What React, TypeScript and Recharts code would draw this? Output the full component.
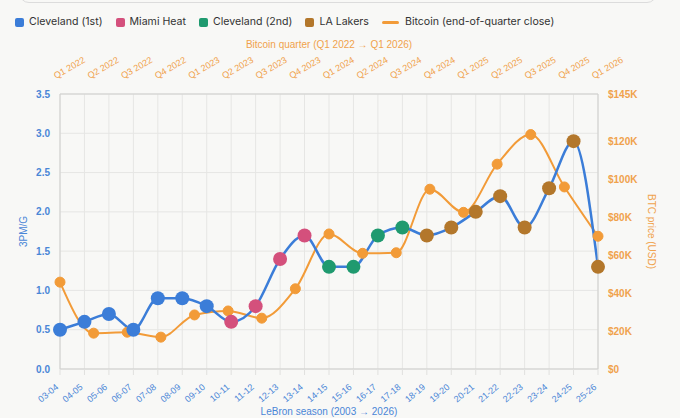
import React from 'react';
import { ComposedChart, Line, XAxis, YAxis, CartesianGrid } from 'recharts';

// LeBron seasons (bottom axis)
const seasons = [
  '03-04', '04-05', '05-06', '06-07', '07-08', '08-09', '09-10', '10-11',
  '11-12', '12-13', '13-14', '14-15', '15-16', '16-17', '17-18', '18-19',
  '19-20', '20-21', '21-22', '22-23', '23-24', '24-25', '25-26',
];
const threesPerGame = [
  0.5, 0.6, 0.7, 0.5, 0.9, 0.9, 0.8, 0.6, 0.8, 1.4, 1.7, 1.3, 1.3, 1.7, 1.8,
  1.7, 1.8, 2.0, 2.2, 1.8, 2.3, 2.9, 1.3,
];
const seasonTeam = [
  0, 0, 0, 0, 0, 0, 0, 1, 1, 1, 1, 2, 2, 2, 2, 3, 3, 3, 3, 3, 3, 3, 3,
];

const teamNames = ['Cleveland (1st)', 'Miami Heat', 'Cleveland (2nd)', 'LA Lakers'];
const teamColors = ['#3b7dd8', '#d4507c', '#1f9a6f', '#b3772b'];

// Bitcoin quarters (top axis)
const quarters = [
  'Q1 2022', 'Q2 2022', 'Q3 2022', 'Q4 2022', 'Q1 2023', 'Q2 2023', 'Q3 2023',
  'Q4 2023', 'Q1 2024', 'Q2 2024', 'Q3 2024', 'Q4 2024', 'Q1 2025', 'Q2 2025',
  'Q3 2025', 'Q4 2025', 'Q1 2026',
];
const btcClose = [
  45800, 18900, 19400, 16800, 28500, 30600, 26800, 42300, 71200, 61000, 61300,
  94800, 82600, 108000, 123600, 96000, 70000,
];

const leftTicks = [0, 0.5, 1, 1.5, 2, 2.5, 3, 3.5];
const rightTicks = [0, 20000, 40000, 60000, 80000, 100000, 120000, 145000];

const BLUE = '#3b7dd8';
const BLUE_TEXT = '#4a86d6';
const ORANGE = '#f29b38';
const ORANGE_TEXT = '#f0a24c';
const FONT = '"Liberation Sans", Arial, sans-serif';

const seasonData = seasons.map((s, i) => ({
  x: i,
  season: s,
  pm: threesPerGame[i],
  team: seasonTeam[i],
}));
const btcData = quarters.map((q, i) => ({ x: i, quarter: q, price: btcClose[i] }));

const SeasonDot = (props: any) => {
  const { cx, cy, index, payload } = props;
  return <circle key={'sd' + index} cx={cx} cy={cy} r={7} fill={teamColors[payload.team]} />;
};

const BottomTick = ({ x, y, payload }: any) => (
  <text
    transform={`translate(${x - 1},${y + 13}) rotate(-40)`}
    textAnchor='end'
    fontSize={9}
    fontFamily={FONT}
    fill={BLUE_TEXT}
  >
    {seasons[payload.value]}
  </text>
);

const TopTick = ({ x, y, payload }: any) => (
  <text
    transform={`translate(${x - 4},${y}) rotate(-30)`}
    textAnchor='start'
    fontSize={9}
    fontFamily={FONT}
    fill={ORANGE_TEXT}
  >
    {quarters[payload.value]}
  </text>
);

function Legend() {
  const items = teamNames.map((name, i) => (
    <div key={name} style={{ display: 'flex', alignItems: 'center', marginRight: 13 }}>
      <span style={{ width: 9, height: 9, borderRadius: 2, background: teamColors[i], marginRight: 5 }} />
      <span>{name}</span>
    </div>
  ));
  return (
    <div
      style={{
        position: 'absolute',
        top: 15,
        left: 15,
        display: 'flex',
        alignItems: 'center',
        fontFamily: 'Inter, sans-serif',
        fontSize: 10.6,
        lineHeight: '14px',
        color: '#333',
      }}
    >
      {items}
      <div style={{ display: 'flex', alignItems: 'center' }}>
        <span style={{ width: 17, height: 3, borderRadius: 2, background: ORANGE, marginRight: 6 }} />
        <span>Bitcoin (end-of-quarter close)</span>
      </div>
    </div>
  );
}

export default function App() {
  return (
    <div
      style={{
        position: 'fixed',
        left: 0,
        top: 0,
        width: 680,
        height: 418,
        background: '#f8f8f6',
        overflow: 'hidden',
      }}
    >
      <div
        style={{
          position: 'absolute',
          left: 19,
          top: -20,
          width: 636,
          height: 21,
          border: '1px solid #dcdcdc',
          borderRadius: 10,
        }}
      />
      <Legend />
      <ComposedChart width={680} height={418} margin={{ top: 0, right: 0, bottom: 0, left: 0 }}>
        <CartesianGrid xAxisId='season' yAxisId='pm' stroke='#e6e6e4' />
        <XAxis
          xAxisId='season'
          dataKey='x'
          type='number'
          domain={[0, 22]}
          ticks={seasons.map((_, i) => i)}
          interval={0}
          orientation='bottom'
          height={49}
          tickSize={6}
          tickMargin={0}
          tickLine={{ stroke: '#e0e0de' }}
          axisLine={{ stroke: '#cfcfcd' }}
          tick={<BottomTick />}
          label={{
            value: 'LeBron season (2003 → 2026)',
            position: 'insideBottom',
            offset: 3,
            fill: BLUE_TEXT,
            fontSize: 10,
            fontFamily: FONT,
          }}
        />
        <XAxis
          xAxisId='quarter'
          dataKey='x'
          type='number'
          domain={[0, 16]}
          ticks={quarters.map((_, i) => i)}
          interval={0}
          orientation='top'
          height={94}
          tickSize={0}
          tickMargin={15}
          tickLine={false}
          axisLine={{ stroke: '#cfcfcd' }}
          tick={<TopTick />}
          label={{
            value: 'Bitcoin quarter (Q1 2022 → Q1 2026)',
            position: 'insideTop',
            offset: 41,
            fill: ORANGE_TEXT,
            fontSize: 10,
            fontFamily: FONT,
          }}
        />
        <YAxis
          yAxisId='pm'
          orientation='left'
          width={60}
          domain={[0, 3.5]}
          ticks={leftTicks}
          interval={0}
          tickFormatter={(v: number) => v.toFixed(1)}
          tickSize={0}
          tickMargin={10}
          tickLine={false}
          axisLine={{ stroke: '#cfcfcd' }}
          tick={{ fill: BLUE_TEXT, fontSize: 10, fontFamily: FONT, fontWeight: 'bold' }}
          label={{
            value: '3PM/G',
            angle: -90,
            position: 'insideLeft',
            offset: 23,
            fill: BLUE_TEXT,
            fontSize: 10,
            fontFamily: FONT,
            style: { textAnchor: 'middle' },
          }}
        />
        <YAxis
          yAxisId='btc'
          orientation='right'
          width={82}
          domain={[0, 145000]}
          ticks={rightTicks}
          interval={0}
          tickFormatter={(v: number) => (v === 0 ? '$0' : `$${v / 1000}K`)}
          tickSize={0}
          tickMargin={10}
          tickLine={false}
          axisLine={{ stroke: '#cfcfcd' }}
          tick={{ fill: ORANGE_TEXT, fontSize: 10, fontFamily: FONT, fontWeight: 'bold', textAnchor: 'start' }}
          label={{
            value: 'BTC price (USD)',
            angle: 90,
            position: 'insideRight',
            offset: 28,
            fill: ORANGE_TEXT,
            fontSize: 10,
            fontFamily: FONT,
            style: { textAnchor: 'middle' },
          }}
        />
        <Line
          data={btcData}
          xAxisId='quarter'
          yAxisId='btc'
          dataKey='price'
          type='monotone'
          stroke={ORANGE}
          strokeWidth={2}
          dot={{ r: 5, fill: ORANGE, stroke: ORANGE, strokeWidth: 1 }}
          activeDot={false}
          isAnimationActive={false}
        />
        <Line
          data={seasonData}
          xAxisId='season'
          yAxisId='pm'
          dataKey='pm'
          type='monotone'
          stroke={BLUE}
          strokeWidth={2.5}
          dot={SeasonDot}
          activeDot={false}
          isAnimationActive={false}
        />
      </ComposedChart>
    </div>
  );
}
